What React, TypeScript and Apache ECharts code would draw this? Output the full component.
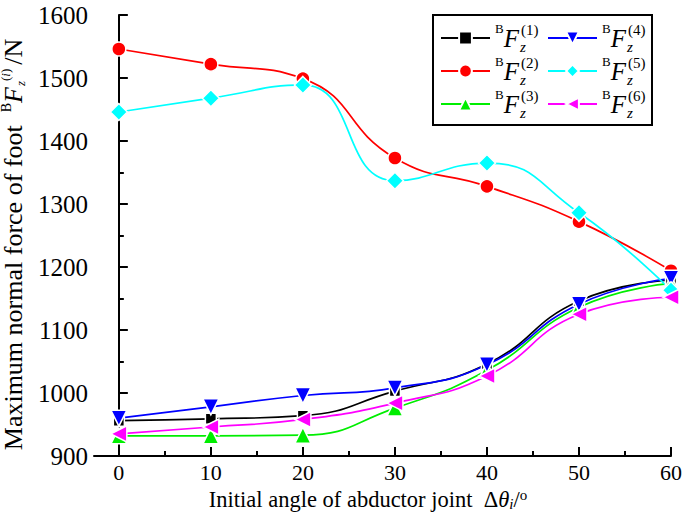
import React, { useEffect, useRef } from "react";
import * as echarts from "echarts";

const angles = [0, 10, 20, 30, 40, 50, 60];
const f1 = [956, 959, 964, 1003, 1046, 1146, 1179];
const f2 = [1546, 1522, 1499, 1373, 1328, 1272, 1194];
const f3 = [932, 932, 933, 976, 1036, 1136, 1174];
const f4 = [960, 978, 996, 1008, 1045, 1141, 1182];
const f5 = [1446, 1468, 1489, 1337, 1365, 1286, 1163];
const f6 = [935, 946, 958, 984, 1027, 1125, 1152];
const majorX = [0, 10, 20, 30, 40, 50, 60];
const minorX = [5, 15, 25, 35, 45, 55];

const fam = "Liberation Serif";

const seriesDefs = [
  { name: "F1", data: f1, color: "#000000", symbol: "rect", size: 11, rotate: 0 },
  { name: "F2", data: f2, color: "#ff0000", symbol: "circle", size: 14, rotate: 0 },
  { name: "F3", data: f3, color: "#00ee00", symbol: "triangle", size: 16, rotate: 0 },
  { name: "F4", data: f4, color: "#0000ff", symbol: "triangle", size: 16, rotate: 180 },
  { name: "F5", data: f5, color: "#00ffff", symbol: "diamond", size: 17, rotate: 0 },
  { name: "F6", data: f6, color: "#ff00ff", symbol: "triangle", size: 16, rotate: 90 },
];

const legendPos: Record<string, [number, number]> = {
  F1: [440, 38],
  F2: [440, 71],
  F3: [440, 104],
  F4: [547, 38],
  F5: [547, 71],
  F6: [547, 104],
};

const base = { fontFamily: fam, color: "#000" };

const legendRich = {
  b: { ...base, fontSize: 13, lineHeight: 16, verticalAlign: "top" },
  F: { ...base, fontSize: 25, fontStyle: "italic", lineHeight: 32, verticalAlign: "middle", padding: [0, 1, 0, 0] },
  z: { ...base, fontSize: 15, fontStyle: "italic", lineHeight: 10, verticalAlign: "bottom", width: 1 },
  s: { ...base, fontSize: 15, lineHeight: 17, verticalAlign: "top" },
};

const yNameRich = {
  t: { ...base, fontSize: 26, lineHeight: 28, verticalAlign: "middle" },
  b: { ...base, fontSize: 14, lineHeight: 20, verticalAlign: "top" },
  F: { ...base, fontSize: 26, fontStyle: "italic", lineHeight: 28, verticalAlign: "middle", padding: [0, 1, 0, 0] },
  z: { ...base, fontSize: 13, fontStyle: "italic", lineHeight: 9, verticalAlign: "bottom" },
  s: { ...base, fontSize: 13, lineHeight: 22, verticalAlign: "top" },
  si: { ...base, fontSize: 13, fontStyle: "italic", lineHeight: 22, verticalAlign: "top" },
  n: { ...base, fontSize: 26, lineHeight: 28, verticalAlign: "middle", padding: [0, 0, 0, 4] },
};

const xNameRich = {
  t: { ...base, fontSize: 22.5, lineHeight: 24, verticalAlign: "middle" },
  th: { ...base, fontSize: 22.5, fontStyle: "italic", lineHeight: 24, verticalAlign: "middle" },
  sub: { ...base, fontSize: 15, fontStyle: "italic", lineHeight: 12, verticalAlign: "bottom" },
  deg: { ...base, fontSize: 15, lineHeight: 16, verticalAlign: "top" },
};

export default function App() {
  const ref = useRef<HTMLDivElement>(null);
  useEffect(() => {
    if (!ref.current) return;
    const chart = echarts.init(ref.current, null, { renderer: "svg" });
    const axisLineStyle = { color: "#000", width: 2 };
    const option: any = {
      animation: false,
      backgroundColor: "#fff",
      textStyle: { fontFamily: fam },
      grid: { left: 94, right: 14, top: 15, bottom: 58, containLabel: false, outerBoundsMode: "none" },
      xAxis: [
        {
          type: "value",
          position: "bottom",
          min: -2.7,
          max: 60,
          axisLine: { show: true, onZero: false, lineStyle: axisLineStyle },
          axisTick: { show: true, inside: true, length: 9, customValues: majorX, lineStyle: axisLineStyle },
          axisLabel: { show: true, customValues: majorX, color: "#000", fontSize: 22, fontFamily: fam, margin: 5 },
          splitLine: { show: false },
          name: "{t|Initial angle of abductor joint  Δ}{th|θ}{sub|i}{t|/}{deg|o}",
          nameLocation: "middle",
          nameGap: 31,
          nameTextStyle: { ...base, padding: [0, 29, 0, 0], rich: xNameRich },
        },
        {
          type: "value",
          position: "bottom",
          min: -2.7,
          max: 60,
          axisLine: { show: false, onZero: false },
          axisTick: { show: true, inside: true, length: 5, customValues: minorX, lineStyle: axisLineStyle },
          axisLabel: { show: false },
          splitLine: { show: false },
        },
      ],
      yAxis: {
        type: "value",
        min: 900,
        max: 1600,
        interval: 100,
        axisLine: { show: true, lineStyle: axisLineStyle },
        axisTick: { show: true, inside: true, length: 9, lineStyle: axisLineStyle },
        minorTick: { show: true, splitNumber: 2, length: 5, lineStyle: axisLineStyle },
        splitLine: { show: false },
        axisLabel: {
          color: "#000",
          fontSize: 25,
          fontFamily: fam,
          margin: 6,
          formatter: (v: number) => String(v),
        },
        name: "{t|Maximum normal force of foot  }{b|B}{F|F}{z|z}{s|(}{si|i}{s|)}{n|/N}",
        nameLocation: "middle",
        nameGap: 61,
        nameTextStyle: { ...base, padding: [0, 18, 0, 0], rich: yNameRich },
      },
      legend: seriesDefs.map((s) => ({
        data: [s.name],
        left: legendPos[s.name][0],
        top: legendPos[s.name][1] - 16,
        orient: "vertical",
        padding: 0,
        itemWidth: 49,
        itemHeight: 16,
        itemGap: 0,
        selectedMode: false,
        formatter: (name: string) => `{b|B}{F|F}{z|z}{s|(${name.slice(1)})}`,
        textStyle: { ...base, rich: legendRich },
      })),
      graphic: [
        {
          type: "rect",
          shape: { x: 433, y: 15, width: 219, height: 110 },
          style: { fill: "#fff", stroke: "#000", lineWidth: 2 },
          z: 3,
          silent: true,
        },
      ],
      series: seriesDefs.map((s) => ({
        name: s.name,
        type: "line",
        xAxisIndex: 0,
        data: angles.map((a, i) => [a, s.data[i]]),
        smooth: 0.5,
        symbol: s.symbol,
        symbolSize: s.size,
        symbolRotate: s.rotate,
        lineStyle: { color: s.color, width: 1.7 },
        itemStyle: { color: s.color, borderColor: "#fff", borderWidth: 1.5 },
      })),
    };
    chart.setOption(option);
    return () => chart.dispose();
  }, []);
  return (
    <div
      ref={ref}
      style={{ position: "absolute", left: 0, top: 0, width: 685, height: 514 }}
    />
  );
}
